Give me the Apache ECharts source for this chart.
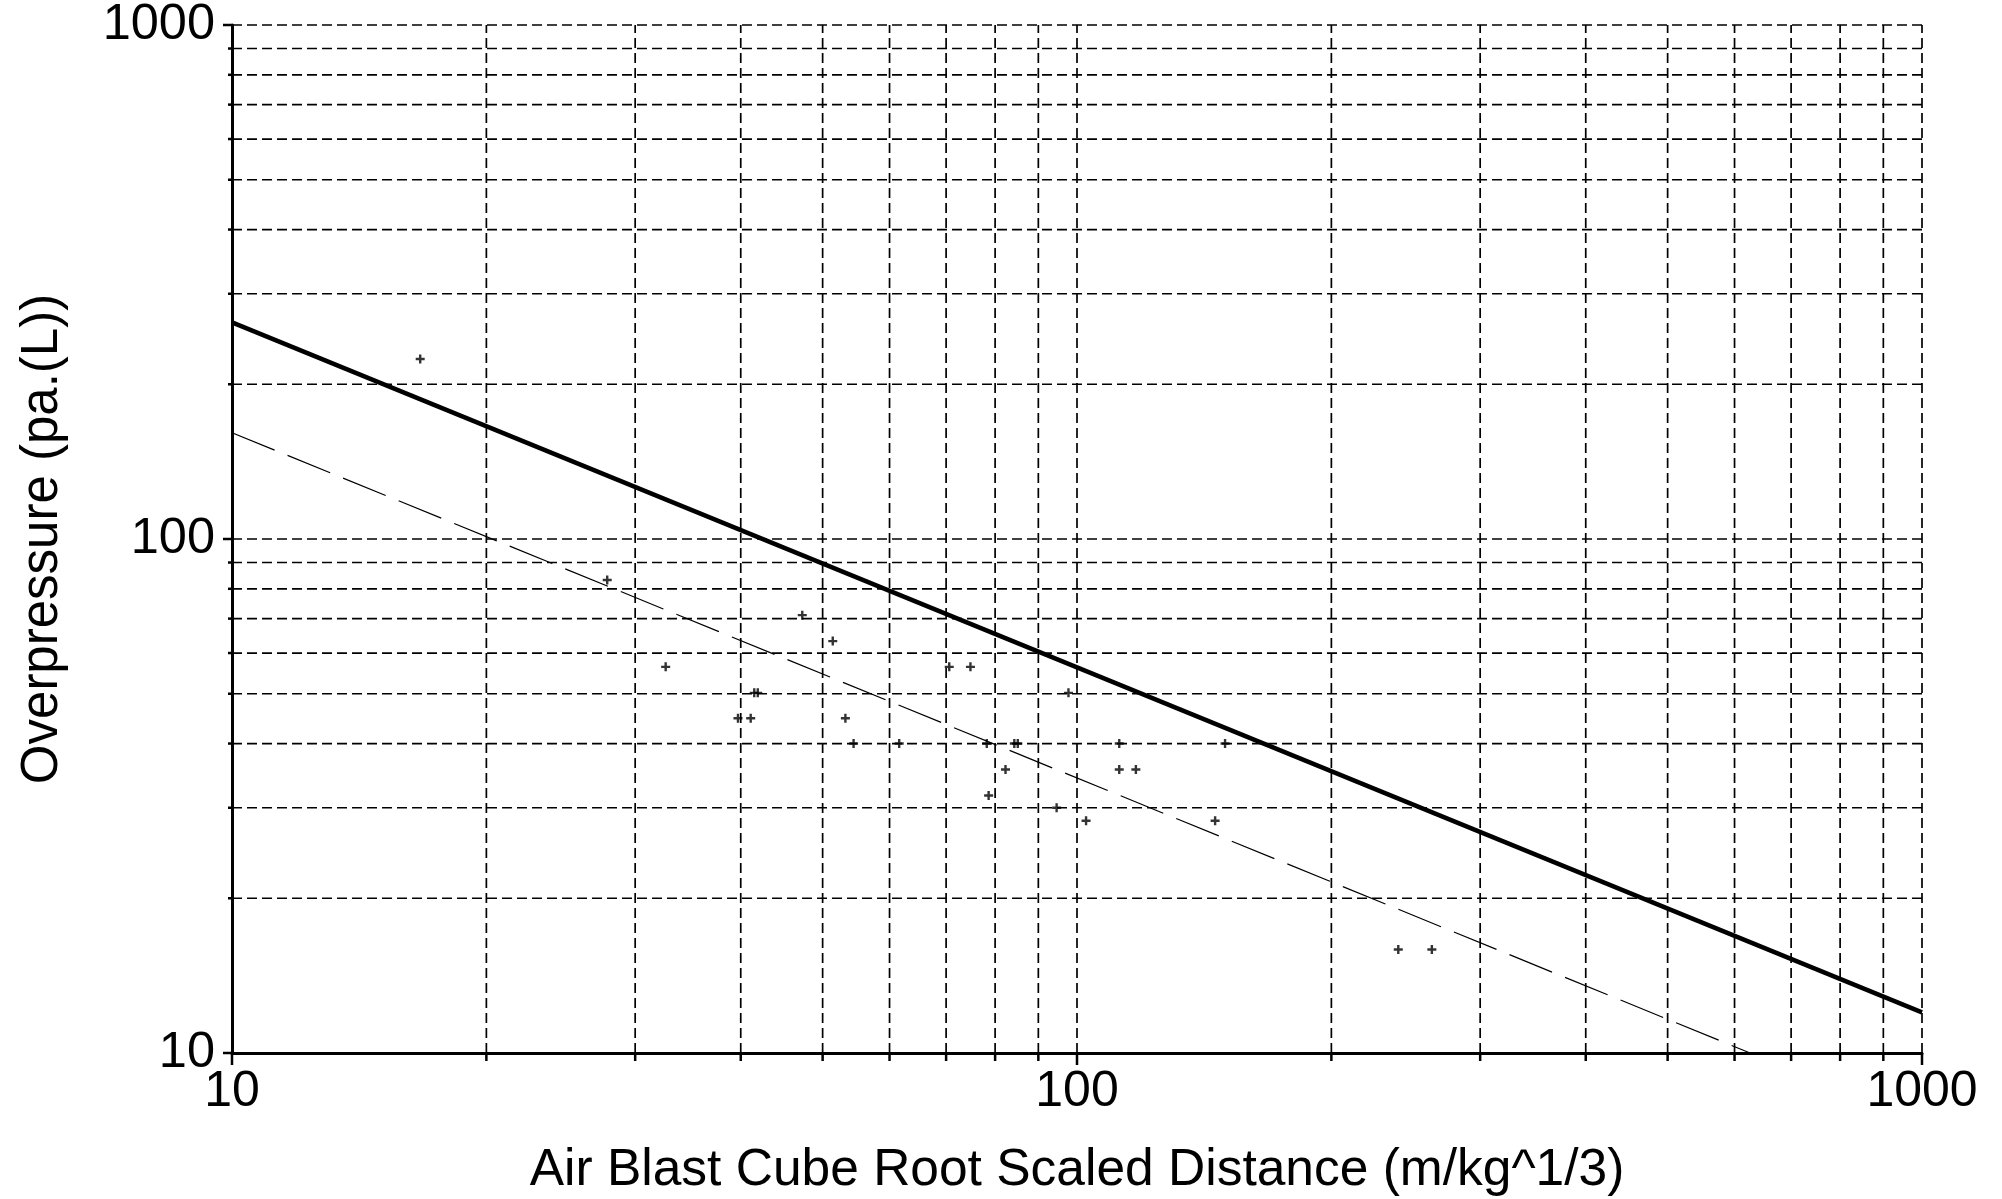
<!DOCTYPE html>
<html>
<head>
<meta charset="utf-8">
<title>Air blast overpressure</title>
<script src="https://cdn.jsdelivr.net/npm/echarts@6/dist/echarts.min.js"></script>
<style>
html,body{margin:0;padding:0;background:#fff;}
#chart{width:2002px;height:1199px;}
</style>
</head>
<body>
<div id="chart"></div>
<script>
// measured points (scaled distance, overpressure)
var distance = [16.7, 27.8, 32.6, 39.7, 41.1, 41.5, 41.9, 47.3, 51.4, 53.2, 54.4, 61.6, 70.6, 74.8,
	78.2, 78.6, 82.3, 84.3, 85.1, 94.6, 97.7, 102.5, 112.2, 112.2, 117.4, 145.7, 149.7, 240, 263];
var pressure = [224, 83.2, 56.4, 44.8, 44.8, 50.2, 50.2, 71.1, 63.3, 44.8, 40.0, 40.0, 56.4, 56.4,
	40.0, 31.7, 35.6, 40.0, 40.0, 30.0, 50.2, 28.3, 40.0, 35.6, 35.6, 28.3, 40.0, 15.9, 15.9];

// fitted lines (end points)
var upperFitX = [10, 1000];
var upperFitY = [264, 12.0];
var meanFitX = [10, 626];
var meanFitY = [161, 10];

// grid / tick values
var majorTicks = [10, 100, 1000];
var minorTicks = [20, 30, 40, 50, 60, 70, 80, 90, 200, 300, 400, 500, 600, 700, 800, 900];

var FONT = 'Liberation Sans, Arial, sans-serif';

function pairs(xs, ys){
	var out = [];
	for(var i = 0; i < xs.length; i++){
		out.push([xs[i], ys[i]]);
	}
	return out;
}

var gridItems = [];
for(var i = 0; i < majorTicks.length; i++){
	gridItems.push([majorTicks[i], majorTicks[i], 1]);
}
for(var i = 0; i < minorTicks.length; i++){
	gridItems.push([minorTicks[i], minorTicks[i], 0]);
}

// dashed grid lines plus the outside ticks on both axes
function renderGrid(params, api){
	var v = api.value(0);
	var major = api.value(2) === 1;
	var children = [];
	var bl = api.coord([10, 10]);
	var tr = api.coord([1000, 1000]);
	var px = api.coord([v, 10])[0];
	var py = api.coord([10, v])[1];
	var dash = {stroke: '#000', lineWidth: 1.7, lineDash: [10, 5], fill: null};
	if(v > 10){
		children.push({type: 'line', shape: {x1: px, y1: bl[1], x2: px, y2: tr[1]}, style: dash});
		children.push({type: 'line', shape: {x1: bl[0], y1: py, x2: tr[0], y2: py}, style: dash});
	}
	var tick = {stroke: '#000', lineWidth: 2.5};
	children.push({type: 'line', shape: {x1: px, y1: bl[1], x2: px, y2: bl[1] + (major ? 12 : 8)}, style: tick});
	children.push({type: 'line', shape: {x1: bl[0] - (major ? 9 : 4), y1: py, x2: bl[0], y2: py}, style: tick});
	return {type: 'group', children: children};
}

var myChart = echarts.init(document.getElementById('chart'));

var option = {
	backgroundColor: '#fff',
	animation: false,
	grid: {left: 232, right: 80, top: 25, bottom: 146, outerBoundsMode: 'none'},
	xAxis: {
		type: 'log',
		logBase: 10,
		min: 10,
		max: 1000,
		name: 'Air Blast Cube Root Scaled Distance (m/kg^1/3)',
		nameLocation: 'middle',
		nameGap: 92,
		nameTextStyle: {color: '#000', fontSize: 51.5, fontFamily: FONT},
		axisLine: {show: true, lineStyle: {color: '#000', width: 3}},
		axisTick: {show: false},
		splitLine: {show: false},
		minorTick: {show: false},
		axisLabel: {
			color: '#000', fontSize: 50, fontFamily: FONT, margin: 14,
			formatter: function(v){ return String(Math.round(v)); }
		}
	},
	yAxis: {
		type: 'log',
		logBase: 10,
		min: 10,
		max: 1000,
		name: 'Overpressure (pa.(L))',
		nameLocation: 'middle',
		nameGap: 164,
		nameTextStyle: {color: '#000', fontSize: 51, fontFamily: FONT},
		axisLine: {show: true, lineStyle: {color: '#000', width: 3}},
		axisTick: {show: false},
		splitLine: {show: false},
		minorTick: {show: false},
		axisLabel: {
			color: '#000', fontSize: 50.5, fontFamily: FONT, margin: 17,
			formatter: function(v){ return String(Math.round(v)); }
		}
	},
	series: [
		{
			type: 'custom',
			name: 'grid',
			renderItem: renderGrid,
			data: gridItems,
			clip: false,
			silent: true,
			z: 1
		},
		{
			type: 'line',
			name: 'mean',
			data: pairs(meanFitX, meanFitY),
			symbol: 'none',
			lineStyle: {color: '#000', width: 1.2, type: [46, 14]},
			z: 3
		},
		{
			type: 'line',
			name: 'upper',
			data: pairs(upperFitX, upperFitY),
			symbol: 'none',
			lineStyle: {color: '#000', width: 4.5},
			z: 4
		},
		{
			type: 'scatter',
			name: 'measured',
			data: pairs(distance, pressure),
			symbol: 'path://M3.3,0H5.7V3.3H9V5.7H5.7V9H3.3V5.7H0V3.3H3.3Z',
			symbolSize: 9,
			itemStyle: {color: '#000'},
			z: 5
		}
	]
};

myChart.setOption(option);
</script>
</body>
</html>
